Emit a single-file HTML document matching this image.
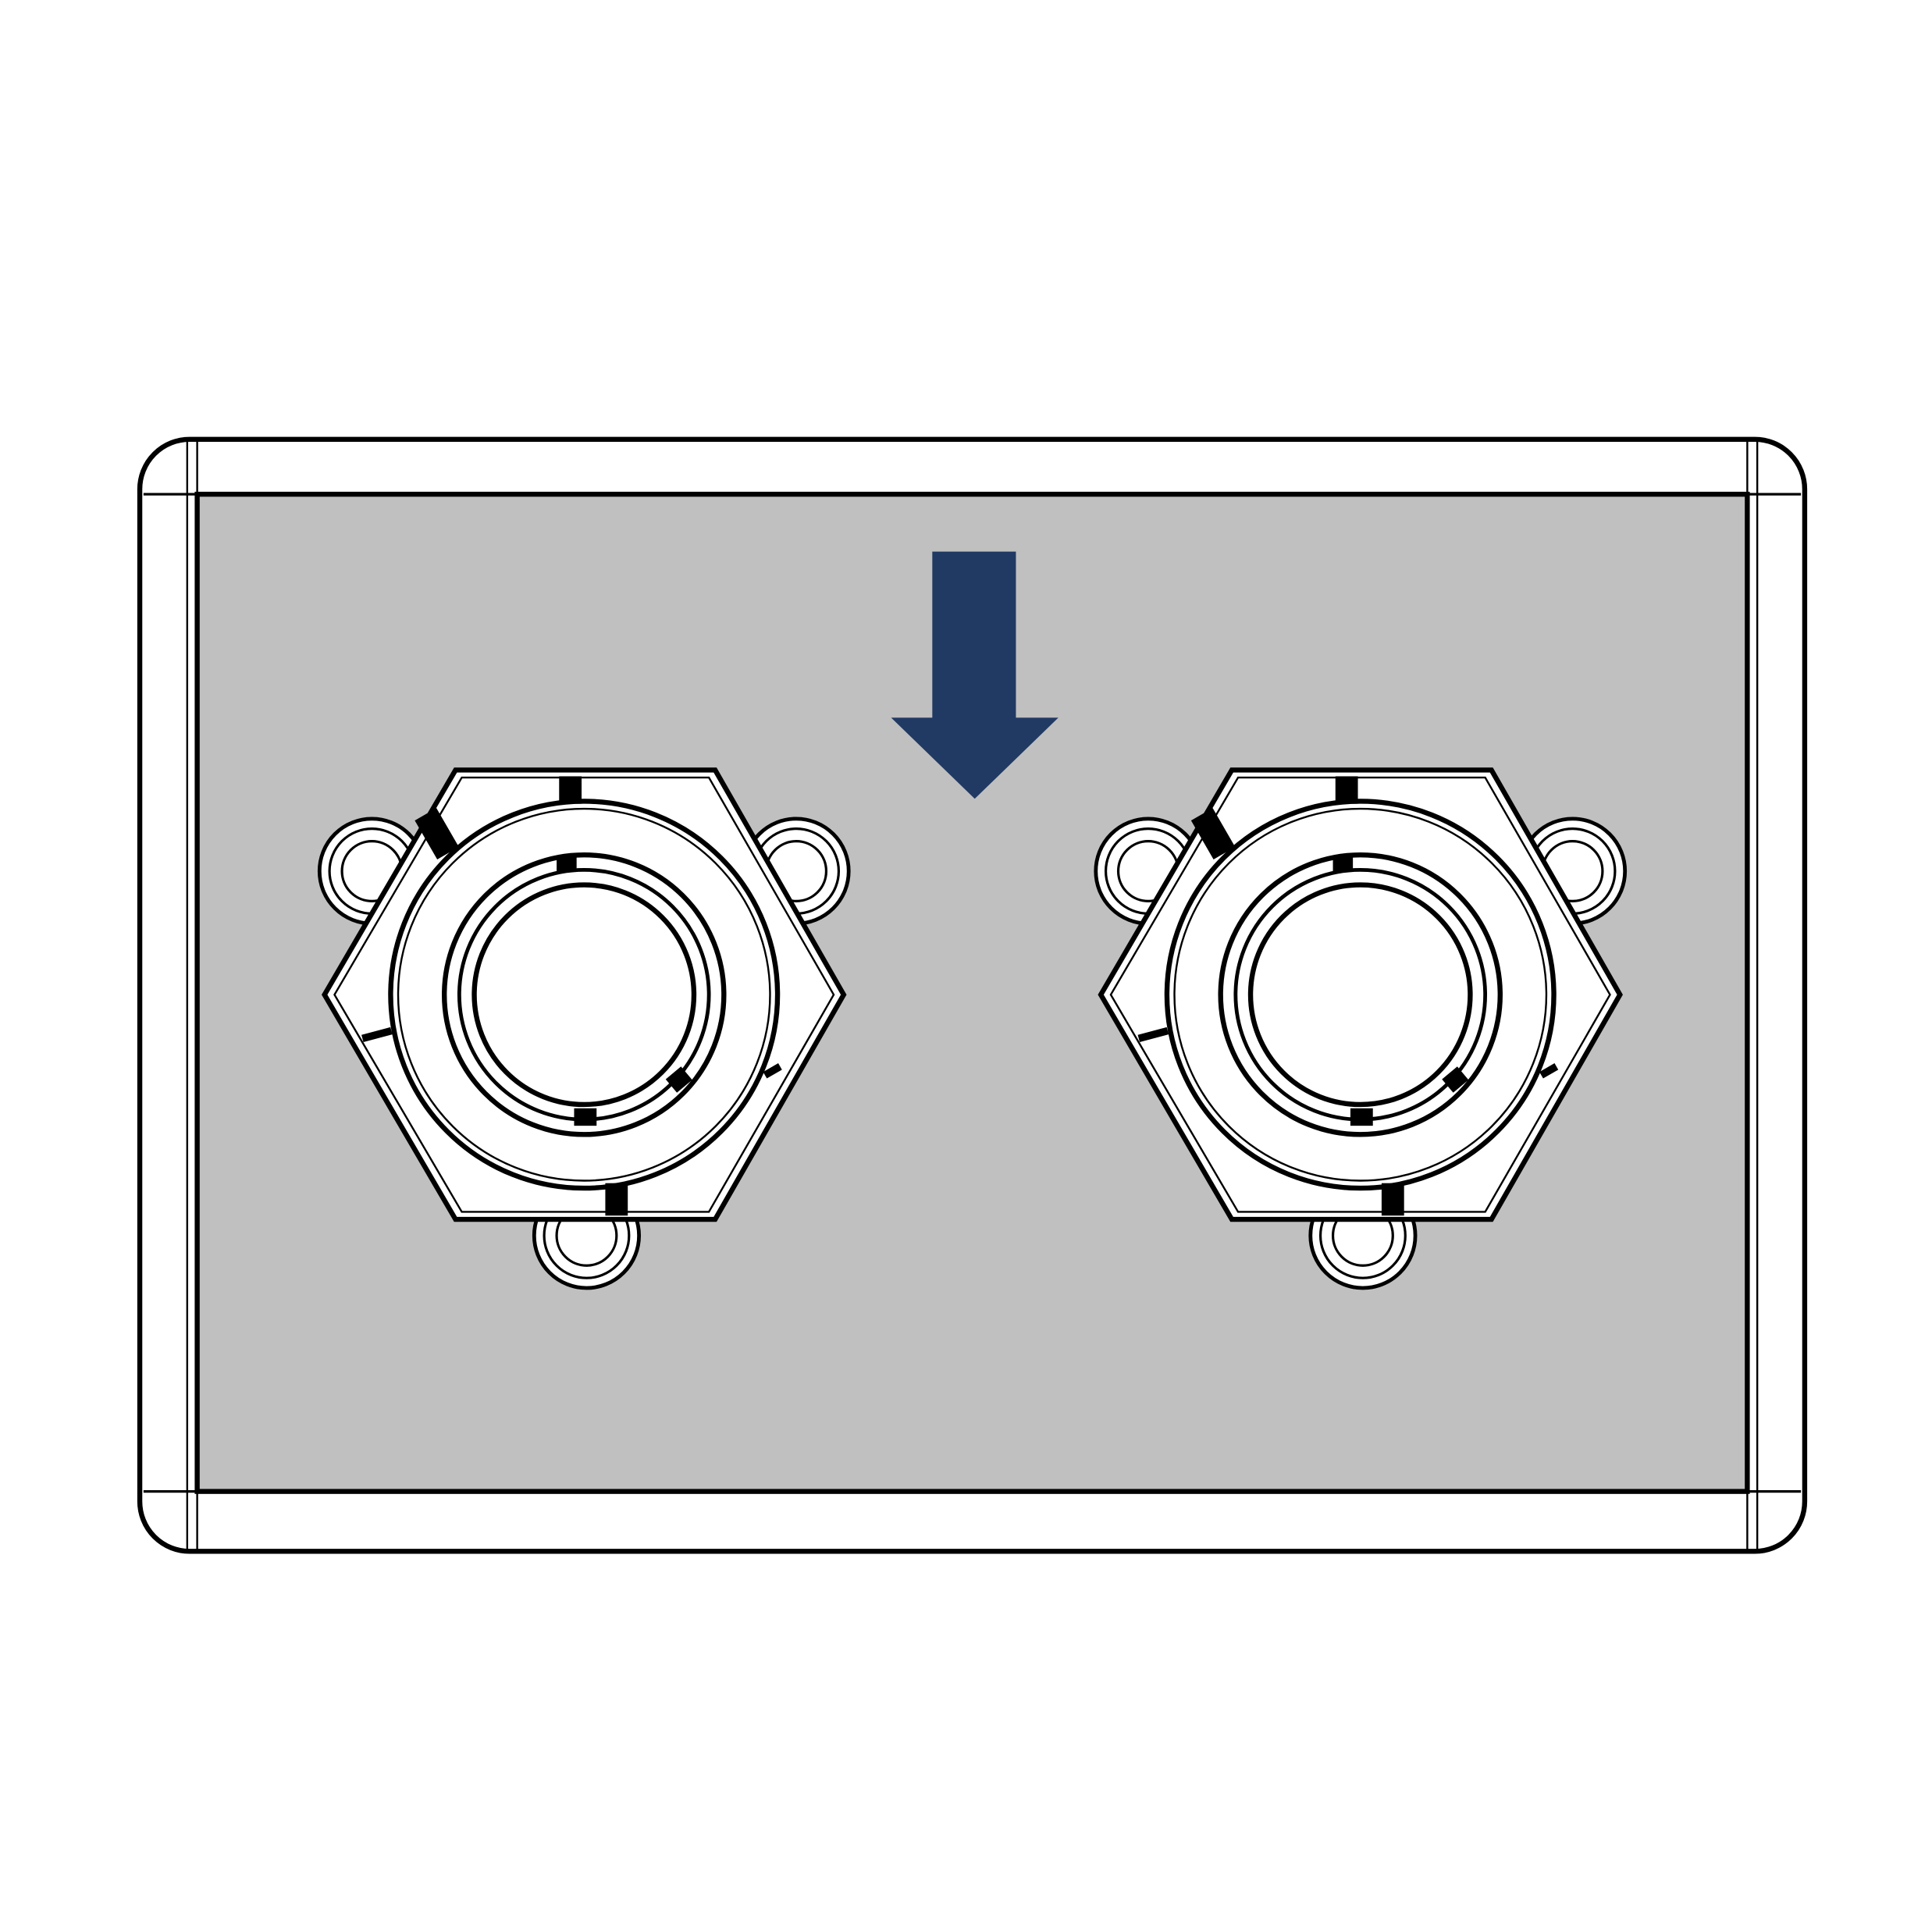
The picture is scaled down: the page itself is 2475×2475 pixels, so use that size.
<!DOCTYPE html>
<html><head><meta charset="utf-8"><title>Plate with two fittings</title>
<style>html,body{margin:0;padding:0;background:#fff}svg{display:block}</style></head>
<body>
<svg width="2475" height="2475" viewBox="0 0 1548 1548" xmlns="http://www.w3.org/2000/svg">
  <defs>
    <g id="fitting">
      <!-- lugs -->
      <g fill="#fff" stroke="#000" stroke-width="3">
        <circle cx="298" cy="698" r="42"/>
        <circle cx="638" cy="698" r="42"/>
        <circle cx="470" cy="990" r="42"/>
      </g>
      <g fill="none" stroke="#000" stroke-width="2">
        <circle cx="298" cy="698" r="34"/><circle cx="298" cy="698" r="24"/>
        <circle cx="638" cy="698" r="34"/><circle cx="638" cy="698" r="24"/>
        <circle cx="470" cy="990" r="34"/><circle cx="470" cy="990" r="24"/>
      </g>
      <!-- hexagon -->
      <polygon points="365,617 573,617 676,797 573,977 365,977 260,797" fill="#fff" stroke="#000" stroke-width="4"/>
      <polygon points="370,623 568,623 668,797 568,971 370,971 268,797" fill="none" stroke="#000" stroke-width="1.5"/>
      <!-- rings -->
      <circle cx="468" cy="797" r="155" fill="#fff" stroke="#000" stroke-width="4"/>
      <circle cx="468" cy="797" r="149" fill="none" stroke="#000" stroke-width="1.5"/>
      <circle cx="468" cy="797" r="112" fill="#fff" stroke="#000" stroke-width="4"/>
      <circle cx="468" cy="797" r="100" fill="none" stroke="#000" stroke-width="3"/>
      <circle cx="468" cy="797" r="88" fill="#fff" stroke="#000" stroke-width="4"/>
      <!-- notches -->
      <g fill="#000">
        <rect x="448" y="622" width="18" height="22"/>
        <rect x="485" y="948" width="18" height="26"/>
        <rect x="340" y="650" width="20" height="36" transform="rotate(-30 350 668)"/>
        <rect x="446" y="686" width="16" height="12"/>
        <rect x="460" y="888" width="18" height="14"/>
        <rect x="536" y="858" width="16" height="14" transform="rotate(-40 544 865)"/>
        <rect x="290" y="826" width="24" height="6" transform="rotate(-15 302 829)"/>
        <rect x="612" y="855" width="14" height="6" transform="rotate(-30 619 858)"/>
      </g>
    </g>
  </defs>

  <!-- plate -->
  <rect x="112" y="352" width="1334" height="891" rx="40" ry="40" fill="#fff" stroke="#000" stroke-width="4"/>
  <rect x="158" y="396" width="1242" height="799" fill="#c0c0c0" stroke="#000" stroke-width="4"/>
  <g stroke="#000" fill="none">
    <line x1="150" y1="352" x2="150" y2="1243" stroke-width="1.5"/>
    <line x1="158" y1="352" x2="158" y2="1243" stroke-width="1.5"/>
    <line x1="1400" y1="352" x2="1400" y2="1243" stroke-width="1.5"/>
    <line x1="1408" y1="352" x2="1408" y2="1243" stroke-width="1.5"/>
    <line x1="115" y1="396" x2="1443" y2="396" stroke-width="2"/>
    <line x1="115" y1="1195" x2="1443" y2="1195" stroke-width="2"/>
  </g>

  <!-- arrow -->
  <polygon points="747,442 814,442 814,575 848,575 781,640 714,575 747,575" fill="#213a63"/>

  <use href="#fitting"/>
  <use href="#fitting" transform="translate(622,0)"/>
</svg>
</body></html>
